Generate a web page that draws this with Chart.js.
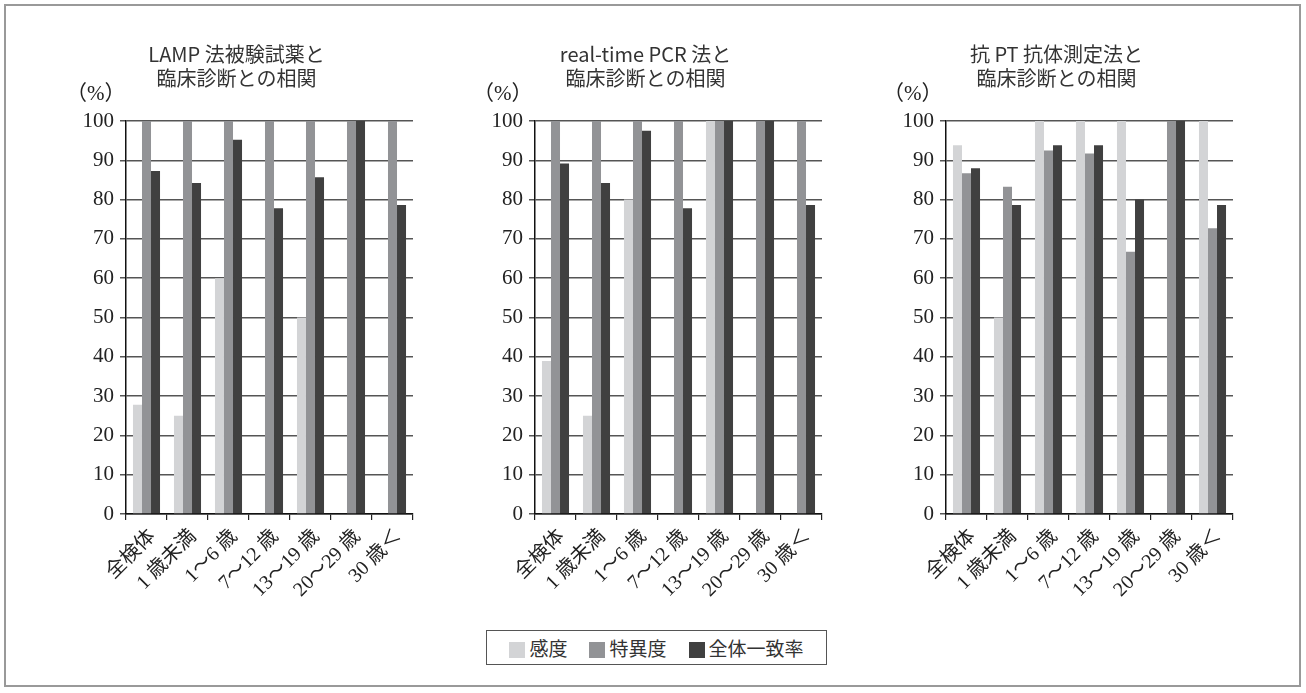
<!DOCTYPE html>
<html>
<head>
<meta charset="utf-8">
<script src="https://cdn.jsdelivr.net/npm/chart.js@4"></script>
<style>
  body { margin: 0; background: #fff; width: 1306px; height: 693px; position: relative; overflow: hidden; }
  #frame { position: absolute; left: 4px; top: 4px; width: 1297px; height: 683px; border: 2px solid #999; box-sizing: border-box; }
  .box { position: absolute; top: 42px; width: 363px; height: 577px; }
  .unit { position: absolute; top: 76px; font: 21px "Liberation Serif", "Noto Sans CJK JP", serif; color: #222; }
  #legend { position: absolute; left: 486px; top: 630px; width: 341px; height: 35px; border: 1.5px solid #555; box-sizing: border-box;
            display: flex; align-items: center; justify-content: center; gap: 22px; font: 19px "Noto Sans CJK JP", sans-serif; color: #333; }
  #legend span.sw { display: inline-block; width: 16px; height: 16px; margin-right: 4px; vertical-align: -2px; }
</style>
</head>
<body>
<div id="frame"></div>
<div class="box" style="left:60px"><canvas id="c1"></canvas></div>
<div class="box" style="left:469px"><canvas id="c2"></canvas></div>
<div class="box" style="left:880px"><canvas id="c3"></canvas></div>
<div class="unit" style="left:66px">（%）</div>
<div class="unit" style="left:473px">（%）</div>
<div class="unit" style="left:883px">（%）</div>
<div id="legend"></div>
<script>
// categories
var ageGroups = ['全検体', '1 歳未満', '1〜6 歳', '7〜12 歳', '13〜19 歳', '20〜29 歳', '30 歳＜'];
var seriesNames = ['感度', '特異度', '全体一致率'];
var seriesColors = ['#d3d4d6', '#929396', '#404040'];

// LAMP 法
var lampSens = [27.8, 25, 60, 0, 50, 0, 0];
var lampSpec = [100, 100, 100, 100, 100, 100, 100];
var lampAgree = [87.3, 84.2, 95.2, 77.8, 85.7, 100, 78.6];

// real-time PCR 法
var pcrSens = [38.9, 25, 80, 0, 100, 0, 0];
var pcrSpec = [100, 100, 100, 100, 100, 100, 100];
var pcrAgree = [89.2, 84.2, 97.5, 77.8, 100, 100, 78.6];

// 抗 PT 抗体測定法
var ptSens = [93.8, 50, 100, 100, 100, 0, 100];
var ptSpec = [86.7, 83.3, 92.5, 91.7, 66.7, 100, 72.7];
var ptAgree = [88.0, 78.6, 93.8, 93.8, 80.0, 100, 78.6];

var titles = [
  ['LAMP 法被験試薬と', '臨床診断との相関'],
  ['real-time PCR 法と', '臨床診断との相関'],
  ['抗 PT 抗体測定法と', '臨床診断との相関']
];

Chart.defaults.animation = false;

var serif = '"Liberation Serif", "DejaVu Serif", "Noto Sans CJK JP", serif';

function makeChart(id, title, sens, spec, agree) {
  var vals = [sens, spec, agree];
  var datasets = vals.map(function (v, i) {
    return {
      label: seriesNames[i],
      data: v,
      backgroundColor: seriesColors[i],
      borderWidth: 0,
      categoryPercentage: 0.66,
      barPercentage: 1.0
    };
  });
  new Chart(document.getElementById(id), {
    type: 'bar',
    data: { labels: ageGroups, datasets: datasets },
    options: {
      responsive: true,
      maintainAspectRatio: false,
      layout: { padding: { top: 0, right: 10, bottom: 0, left: 0 } },
      plugins: {
        legend: { display: false },
        tooltip: { enabled: false },
        title: {
          display: true,
          text: title,
          color: '#333',
          font: { family: '"Noto Sans CJK JP", sans-serif', size: 20, weight: 'normal', lineHeight: 1.2 },
          padding: { top: 0, bottom: 31 }
        }
      },
      scales: {
        x: {
          afterFit: function (s) { s.height = 105; },
          grid: { drawOnChartArea: false, drawTicks: true, tickLength: 6, color: '#222', lineWidth: 1.2 },
          border: { color: '#111', width: 1.5 },
          ticks: {
            autoSkip: false, maxRotation: 45, minRotation: 45, padding: 5, labelOffset: 6,
            color: '#222',
            font: { family: serif, size: 20 }
          }
        },
        y: {
          min: 0, max: 100,
          afterFit: function (s) { s.width = 66; },
          grid: { color: '#555', lineWidth: 1.5, tickLength: 6 },
          border: { color: '#111', width: 1.5 },
          ticks: {
            stepSize: 10, padding: 6, color: '#222',
            font: { family: serif, size: 21 }
          }
        }
      }
    }
  });
}

makeChart('c1', titles[0], lampSens, lampSpec, lampAgree);
makeChart('c2', titles[1], pcrSens, pcrSpec, pcrAgree);
makeChart('c3', titles[2], ptSens, ptSpec, ptAgree);

// legend
var lg = document.getElementById('legend');
seriesNames.forEach(function (n, i) {
  var item = document.createElement('div');
  var sw = document.createElement('span');
  sw.className = 'sw';
  sw.style.background = seriesColors[i];
  item.appendChild(sw);
  item.appendChild(document.createTextNode(n));
  lg.appendChild(item);
});
</script>
</body>
</html>
